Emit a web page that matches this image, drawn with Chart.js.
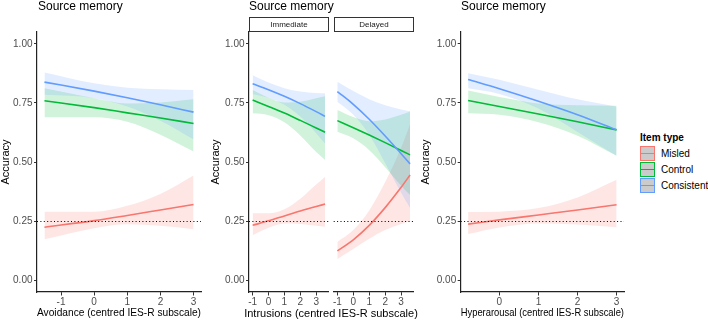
<!DOCTYPE html>
<html>
<head>
<meta charset="utf-8">
<script src="https://cdn.jsdelivr.net/npm/chart.js@4.4.1/dist/chart.umd.min.js"></script>
<style>
  body { margin: 0; background: #fff; font-family: "Liberation Sans", Arial, sans-serif; }
  #wrap { position: relative; width: 708px; height: 320px; overflow: hidden; }
  canvas { position: absolute; top: 0; }
  .title { position: absolute; top: -1px; font-size: 12px; line-height: 14px; color: #000; white-space: nowrap; }
  .strip { position: absolute; top: 17px; height: 15px; box-sizing: border-box; border: 1px solid #333;
           font-size: 8px; line-height: 13px; text-align: center; color: #1a1a1a; background: #fff; }
  .xtitle { position: absolute; top: 306px; font-size: 11px; line-height: 14px; text-align: center; color: #000; }
  .legend { position: absolute; left: 640px; top: 131px; font-size: 10px; color: #000; }
  .legend b { display: block; line-height: 13px; margin-bottom: 2px; }
  .row { position: relative; height: 16px; }
  .key { position: absolute; left: 0; top: 0; width: 15px; height: 15px; box-sizing: border-box;
         background: #cbcbcb; border: 1px solid; }
  .key i { position: absolute; left: 0; right: 0; top: 6px; height: 1.4px; }
  .row span { position: absolute; left: 21px; top: 1px; line-height: 13px; white-space: nowrap; }
</style>
</head>
<body>
<div id="wrap">
  <canvas id="avoid" width="210" height="320" style="left:0px"></canvas>
  <canvas id="imm" width="124" height="320" style="left:210px"></canvas>
  <canvas id="del" width="90" height="320" style="left:330px"></canvas>
  <canvas id="hyp" width="210" height="320" style="left:420px"></canvas>

  <div class="title" style="left:38px">Source memory</div>
  <div class="title" style="left:249px">Source memory</div>
  <div class="title" style="left:461px">Source memory</div>
  <div class="strip" style="left:249px;width:80px">Immediate</div>
  <div class="strip" style="left:334px;width:80px">Delayed</div>
  <div class="xtitle" style="left:231px;width:200px">Intrusions (centred IES-R subscale)</div>

  <div class="legend">
    <b>Item type</b>
    <div class="row"><div class="key" style="border-color:#F8766D"><i style="background:#F8766D"></i></div><span>Misled</span></div>
    <div class="row"><div class="key" style="border-color:#00BA38"><i style="background:#00BA38"></i></div><span>Control</span></div>
    <div class="row"><div class="key" style="border-color:#619CFF"><i style="background:#619CFF"></i></div><span>Consistent</span></div>
  </div>
</div>
<script>
const yTicks = [0, 0.25, 0.5, 0.75, 1];
const chance = 0.25;

// Avoidance
const avoidX = [-1.5, 0, 1, 2, 3];
const avoidTicks = [-1, 0, 1, 2, 3];
const avoidMisled = [0.224, 0.252, 0.274, 0.297, 0.320];
const avoidMisledLo = [0.173, 0.220, 0.237, 0.230, 0.216];
const avoidMisledHi = [0.290, 0.290, 0.315, 0.365, 0.443];
const avoidControl = [0.759, 0.730, 0.708, 0.686, 0.663];
const avoidControlLo = [0.689, 0.689, 0.670, 0.615, 0.544];
const avoidControlHi = [0.812, 0.770, 0.748, 0.752, 0.765];
const avoidConsistent = [0.838, 0.800, 0.772, 0.742, 0.711];
const avoidConsistentLo = [0.784, 0.770, 0.735, 0.675, 0.596];
const avoidConsistentHi = [0.879, 0.833, 0.814, 0.808, 0.805];

// Intrusions, immediate and delayed
const intrX = [-1, 0, 1, 2, 3, 3.56];
const intrTicks = [-1, 0, 1, 2, 3];
const immMisled = [0.232, 0.251, 0.272, 0.293, 0.312, 0.322];
const immMisledLo = [0.190, 0.222, 0.240, 0.238, 0.230, 0.226];
const immMisledHi = [0.283, 0.283, 0.300, 0.345, 0.405, 0.438];
const immControl = [0.762, 0.735, 0.707, 0.676, 0.644, 0.626];
const immControlLo = [0.706, 0.698, 0.668, 0.612, 0.542, 0.508];
const immControlHi = [0.805, 0.772, 0.752, 0.755, 0.770, 0.778];
const immConsistent = [0.831, 0.806, 0.778, 0.747, 0.713, 0.693];
const immConsistentLo = [0.787, 0.772, 0.742, 0.692, 0.622, 0.578];
const immConsistentHi = [0.867, 0.836, 0.812, 0.798, 0.792, 0.791];

const delMisled = [0.124, 0.171, 0.232, 0.307, 0.393, 0.445];
const delMisledLo = [0.090, 0.132, 0.175, 0.212, 0.238, 0.250];
const delMisledHi = [0.162, 0.212, 0.295, 0.415, 0.560, 0.660];
const delControl = [0.675, 0.645, 0.614, 0.582, 0.549, 0.530];
const delControlLo = [0.628, 0.600, 0.550, 0.478, 0.400, 0.360];
const delControlHi = [0.720, 0.690, 0.672, 0.680, 0.700, 0.714];
const delConsistent = [0.798, 0.744, 0.681, 0.610, 0.535, 0.492];
const delConsistentLo = [0.755, 0.700, 0.615, 0.495, 0.370, 0.305];
const delConsistentHi = [0.840, 0.800, 0.765, 0.740, 0.722, 0.715];

// Hyperarousal
const hypX = [-0.8, 0, 1, 2, 3];
const hypTicks = [0, 1, 2, 3];
const hypMisled = [0.237, 0.255, 0.276, 0.297, 0.319];
const hypMisledLo = [0.195, 0.223, 0.240, 0.236, 0.224];
const hypMisledHi = [0.288, 0.290, 0.305, 0.350, 0.425];
const hypControl = [0.760, 0.735, 0.703, 0.670, 0.636];
const hypControlLo = [0.706, 0.700, 0.668, 0.611, 0.526];
const hypControlHi = [0.802, 0.775, 0.748, 0.740, 0.738];
const hypConsistent = [0.849, 0.810, 0.757, 0.700, 0.636];
const hypConsistentLo = [0.812, 0.788, 0.726, 0.627, 0.526];
const hypConsistentHi = [0.876, 0.848, 0.806, 0.765, 0.734];

const red = "248,118,109", green = "0,186,56", blue = "97,156,255";

Chart.defaults.font.family = '"Liberation Sans", Arial, sans-serif';

const pts = (xs, ys) => xs.map((x, i) => ({ x: x, y: ys[i] }));

function line(xs, ys, rgb) {
  return { data: pts(xs, ys), borderColor: "rgb(" + rgb + ")", borderWidth: 1.6,
    pointRadius: 0, fill: false, cubicInterpolationMode: "monotone" };
}
function band(xs, hi, lo, rgb) {
  return [
    { data: pts(xs, hi), borderColor: "rgba(0,0,0,0)", borderWidth: 0, pointRadius: 0,
      backgroundColor: "rgba(" + rgb + ",0.18)", fill: "+1", cubicInterpolationMode: "monotone" },
    { data: pts(xs, lo), borderColor: "rgba(0,0,0,0)", borderWidth: 0, pointRadius: 0,
      fill: false, cubicInterpolationMode: "monotone" },
  ];
}

const chanceLine = {
  id: "chance",
  afterDatasetsDraw(chart) {
    const { ctx, chartArea: a, scales: { y } } = chart;
    const py = Math.round(y.getPixelForValue(chance)) + 0.5;
    ctx.save();
    ctx.setLineDash([1, 2.4]);
    ctx.lineWidth = 1.1;
    ctx.strokeStyle = "#000";
    ctx.beginPath();
    ctx.moveTo(a.left, py);
    ctx.lineTo(a.right, py);
    ctx.stroke();
    ctx.restore();
  },
};

function panel(id, o) {
  const datasets = [
    line(o.x, o.s, blue), line(o.x, o.c, green), line(o.x, o.m, red),
    ...band(o.x, o.sHi, o.sLo, blue), ...band(o.x, o.cHi, o.cLo, green), ...band(o.x, o.mHi, o.mLo, red),
  ];
  new Chart(document.getElementById(id), {
    type: "line",
    data: { datasets: datasets },
    options: {
      responsive: false,
      animation: false,
      devicePixelRatio: 1,
      layout: { padding: { left: o.padL, right: o.padR, top: 32, bottom: 0 } },
      plugins: { legend: { display: false }, tooltip: { enabled: false } },
      scales: {
        x: {
          type: "linear", min: o.xmin, max: o.xmax,
          afterBuildTicks: (s) => { s.ticks = o.ticks.map((v) => ({ value: v })); },
          afterFit: (s) => { s.height = 28; },
          ticks: { color: "#4d4d4d", font: { size: 10 }, padding: 0.5, maxRotation: 0,
            autoSkip: false, callback: (v) => String(v) },
          grid: { display: true, drawOnChartArea: false, drawTicks: true, tickLength: 3.5, color: "#333" },
          border: { display: true, color: "#222", width: 1.2 },
          title: { display: !!o.xtitle, text: o.xtitle || "", color: "#000", font: { size: 11 }, padding: 0 },
        },
        y: {
          display: o.yAxis, min: -0.05, max: 1.05,
          afterBuildTicks: (s) => { s.ticks = yTicks.map((v) => ({ value: v })); },
          afterFit: (s) => { s.width = o.yWidth; },
          ticks: { color: "#4d4d4d", font: { size: 10 }, padding: 1.5, callback: (v) => v.toFixed(2) },
          grid: { display: true, drawOnChartArea: false, drawTicks: true, tickLength: 3, color: "#333" },
          border: { display: true, color: "#222", width: 1.2 },
          title: { display: true, text: "Accuracy", color: "#000", font: { size: 11, lineHeight: 1.1 }, padding: 0 },
        },
      },
    },
    plugins: [chanceLine],
  });
}

panel("avoid", {
  x: avoidX, ticks: avoidTicks, xmin: -1.725, xmax: 3.225, padL: 0, padR: 9, yWidth: 37, yAxis: true,
  xtitle: "Avoidance (centred IES-R subscale)",
  m: avoidMisled, mLo: avoidMisledLo, mHi: avoidMisledHi,
  c: avoidControl, cLo: avoidControlLo, cHi: avoidControlHi,
  s: avoidConsistent, sLo: avoidConsistentLo, sHi: avoidConsistentHi,
});
panel("imm", {
  x: intrX, ticks: intrTicks, xmin: -1.228, xmax: 3.788, padL: 0, padR: 5.3, yWidth: 39, yAxis: true,
  m: immMisled, mLo: immMisledLo, mHi: immMisledHi,
  c: immControl, cLo: immControlLo, cHi: immControlHi,
  s: immConsistent, sLo: immConsistentLo, sHi: immConsistentHi,
});
panel("del", {
  x: intrX, ticks: intrTicks, xmin: -1.228, xmax: 3.788, padL: 3.7, padR: 6.3, yWidth: 0, yAxis: false,
  m: delMisled, mLo: delMisledLo, mHi: delMisledHi,
  c: delControl, cLo: delControlLo, cHi: delControlHi,
  s: delConsistent, sLo: delConsistentLo, sHi: delConsistentHi,
});
panel("hyp", {
  x: hypX, ticks: hypTicks, xmin: -0.99, xmax: 3.19, padL: 0, padR: 6, yWidth: 40.7, yAxis: true,
  xtitle: "Hyperarousal (centred IES-R subscale)",
  m: hypMisled, mLo: hypMisledLo, mHi: hypMisledHi,
  c: hypControl, cLo: hypControlLo, cHi: hypControlHi,
  s: hypConsistent, sLo: hypConsistentLo, sHi: hypConsistentHi,
});
</script>
</body>
</html>
